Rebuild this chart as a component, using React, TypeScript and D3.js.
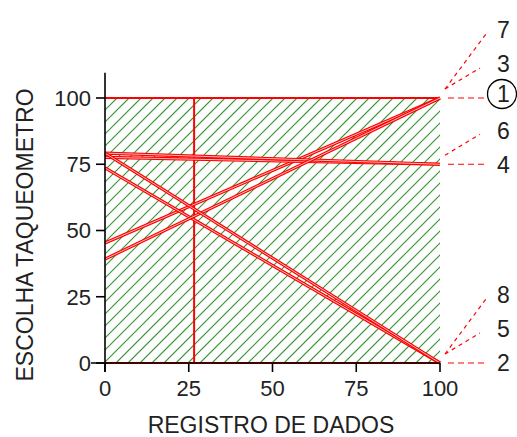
import React from "react";
import * as d3 from "d3";

// ---- data ----
const seriesNames = ["1", "2", "3", "4", "5", "6", "7", "8"];
const startValues = [100, 0, 45.3, 77.6, 73.6, 79.2, 39.2, 79.2]; // y at x = 0
const endValues = [100, 0, 100, 75, 0, 75, 100, 0]; // y at x = 100
const labelStack = [0, 0, 1, 0, 1, 1, 2, 2]; // position of label above its end point
const circledLabels = ["1"];
const markerX = [26.6];
const xTicks = [0, 25, 50, 75, 100];
const yTicks = [0, 25, 50, 75, 100];
const xTitle = "REGISTRO DE DADOS";
const yTitle = "ESCOLHA TAQUEOMETRO";

const W = 517;
const H = 437;
const FONT = "'Liberation Sans', Arial, sans-serif";

export default function App() {
  const x = d3.scaleLinear().domain([0, 100]).range([105, 440]);
  const y = d3.scaleLinear().domain([0, 100]).range([363, 98]);
  const line = d3
    .line<[number, number]>()
    .x((d) => x(d[0]))
    .y((d) => y(d[1]));

  const x0 = x(0), x1 = x(100), yb = y(0), yt = y(100);
  const hatchH = yb - yt;
  const hatchStarts = d3.range(x0 - hatchH - 12, x1 + 12, 12);

  const labelX = 497;
  const labelStep = 34;

  return (
    <svg
      width={W}
      height={H}
      style={{ position: "absolute", left: 0, top: 0, background: "#fff" }}
      fontFamily={FONT}
    >
      <defs>
        <clipPath id="area">
          <rect x={x0} y={yt} width={x1 - x0} height={hatchH} />
        </clipPath>
      </defs>
      {/* hatched region */}
      <g clipPath="url(#area)" stroke="#2f962f" strokeWidth={1.1}>
        {hatchStarts.map((s, i) => (
          <line key={i} x1={s} y1={yb} x2={s + hatchH} y2={yt} />
        ))}
      </g>

      {/* vertical marker */}
      {markerX.map((m, i) => (
        <line key={i} x1={x(m)} x2={x(m)} y1={y(0)} y2={y(100)} stroke="#ff0000" strokeWidth={2} />
      ))}

      {/* series lines */}
      {seriesNames.map((n, i) => {
        const d = line([
          [0, startValues[i]],
          [100, endValues[i]],
        ]) as string;
        const flat = startValues[i] === endValues[i];
        return (
          <g key={n}>
            <path d={d} stroke="#ff0000" strokeWidth={flat ? 2 : 3.2} fill="none" />
            {!flat && <path d={d} stroke="#ffb8b8" strokeWidth={1} fill="none" />}
          </g>
        );
      })}

      {/* axes */}
      <g stroke="#000" strokeWidth={1.6}>
        <line x1={x0} x2={x0} y1={y(109.5)} y2={yb + 9} />
        <line x1={x0 - 14} x2={x1} y1={yb} y2={yb} />
        {yTicks.map((t) => (
          <line key={"yt" + t} x1={x0 - 9} x2={x0} y1={y(t)} y2={y(t)} />
        ))}
        {xTicks.map((t) => (
          <line key={"xt" + t} x1={x(t)} x2={x(t)} y1={yb} y2={yb + 9} />
        ))}
      </g>
      <g fill="#222" fontSize={22}>
        {yTicks.map((t) => (
          <text key={"yl" + t} x={91} y={y(t)} dy="0.36em" textAnchor="end">
            {t}
          </text>
        ))}
        {xTicks.map((t) => (
          <text key={"xl" + t} x={x(t)} y={396} textAnchor="middle">
            {t}
          </text>
        ))}
      </g>
      <text x={271} y={433} textAnchor="middle" fontSize={23} fill="#222">
        {xTitle}
      </text>
      <text
        transform={`translate(33,235) rotate(-90)`}
        textAnchor="middle"
        fontSize={23}
        fill="#222"
      >
        {yTitle}
      </text>

      {/* end labels with dashed leaders */}
      {seriesNames.map((n, i) => {
        const ey = y(endValues[i]);
        const k = labelStack[i];
        const circled = circledLabels.includes(n);
        const ly = ey - k * labelStep - (circled ? 4 : 0);
        return (
          <g key={"lab" + n}>
            {k === 0 ? (
              <line
                x1={x1 + 8}
                x2={487}
                y1={ey}
                y2={ey}
                stroke="#ff0000"
                strokeWidth={1.2}
                strokeDasharray="6,4"
              />
            ) : (
              <line
                x1={x1 + 5}
                y1={ey - 9}
                x2={480 + (k - 1) * 6}
                y2={ly + 4}
                stroke="#ff0000"
                strokeWidth={1.2}
                strokeDasharray="4,4"
              />
            )}
            {circled && <circle cx={502} cy={ly} r={14.5} fill="none" stroke="#000" strokeWidth={1.3} />}
            <text x={labelX} y={ly} dy="0.36em" fontSize={23} fill="#222">
              {n}
            </text>
          </g>
        );
      })}
    </svg>
  );
}
